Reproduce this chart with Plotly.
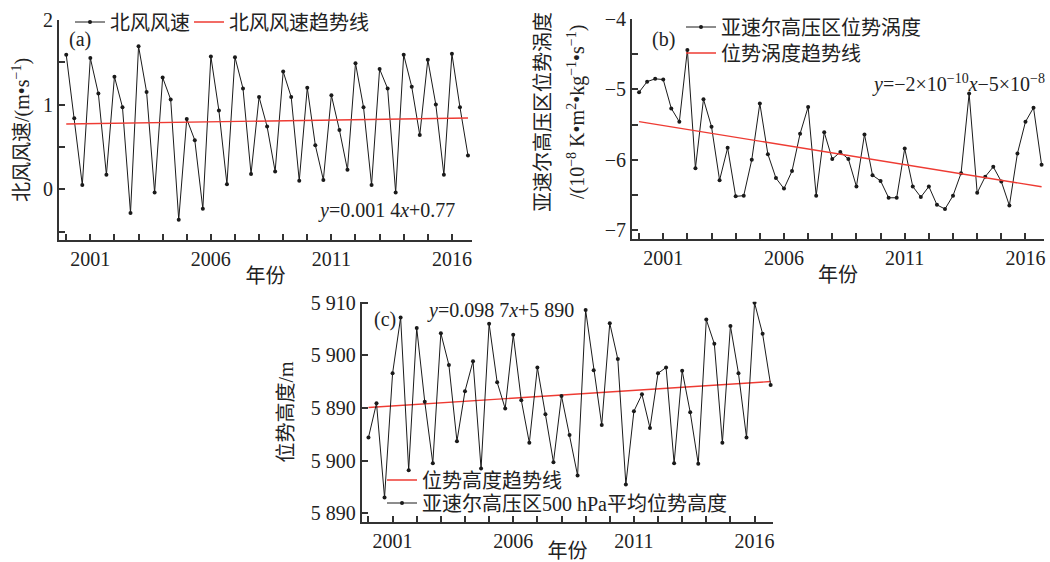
import plotly.graph_objects as go

# ---- data -------------------------------------------------------------
years = list(range(2000, 2017))          # three samples per year
labelled_years = [2001, 2006, 2011, 2016]

# (a) northerly wind speed, m/s
wind = [1.59, 0.84, 0.05, 1.55, 1.13, 0.17, 1.33, 0.97, -0.28, 1.69, 1.15, -0.04,
        1.32, 1.06, -0.36, 0.83, 0.58, -0.23, 1.57, 0.93, 0.06, 1.56, 1.19, 0.18,
        1.09, 0.74, 0.21, 1.39, 1.09, 0.10, 1.20, 0.52, 0.11, 1.11, 0.70, 0.23,
        1.49, 0.97, 0.05, 1.42, 1.19, -0.04, 1.59, 1.21, 0.64, 1.53, 1.00, 0.17,
        1.60, 0.97, 0.40]
wind_trend = (0.0014, 0.77)              # slope, intercept

# (b) potential vorticity, 1e-8 K m2 kg-1 s-1
pv = [-5.04, -4.89, -4.85, -4.86, -5.27, -5.46, -4.44, -6.12, -5.14, -5.53, -6.29,
      -5.83, -6.52, -6.51, -6.00, -5.20, -5.92, -6.26, -6.41, -6.16, -5.63, -5.25,
      -6.51, -5.61, -5.99, -5.89, -5.99, -6.38, -5.64, -6.22, -6.30, -6.54, -6.54,
      -5.84, -6.38, -6.53, -6.38, -6.64, -6.70, -6.51, -6.19, -5.06, -6.47, -6.24,
      -6.10, -6.31, -6.65, -5.91, -5.46, -5.26, -6.07]
pv_trend = (-0.0185, -5.44)              # slope, intercept (x1e-8)

# (c) 500 hPa mean geopotential height, m
gh = [5884.4, 5890.9, 5873.0, 5896.6, 5907.2, 5878.2, 5905.2, 5891.2, 5879.5,
      5904.2, 5898.2, 5883.7, 5893.2, 5898.9, 5878.5, 5906.0, 5894.9, 5889.9,
      5903.9, 5891.5, 5883.4, 5897.7, 5888.8, 5879.7, 5892.3, 5884.9, 5877.2,
      5908.6, 5897.2, 5886.8, 5906.1, 5899.3, 5875.5, 5889.4, 5892.6, 5886.2,
      5896.6, 5897.7, 5879.5, 5897.1, 5889.2, 5879.4, 5906.8, 5902.2, 5883.4,
      5905.6, 5896.6, 5884.4, 5910.0, 5904.1, 5894.4]
gh_trend = (0.0987, 5890)
gh_tickvals = [5870, 5880, 5890, 5900, 5910]
gh_ticktext = ["5 890", "5 900", "5 890", "5 900", "5 910"]

# ---- styling ----------------------------------------------------------
W, H = 1050, 562
FONT = "Liberation Serif, 'Noto Sans CJK SC', serif"
TXT = "#222222"
AX = "#333333"
RED = "#ee3b33"
SERIES = "#1a1a1a"


def px(x):
    return x / W


def py(y):
    return 1 - y / H


idx = list(range(1, len(wind) + 1))
# sample index of the first sample of each year; labelled years get a label,
# every year gets a tick (drawn as minor ticks)
year_pos = {y: 1 + 3 * k for k, y in enumerate(years)}
major_vals = [year_pos[y] for y in labelled_years]
major_text = [str(y) for y in labelled_years]


def line_of(coef):
    return [coef[0] * i + coef[1] for i in idx]


fig = go.Figure()

series_line = dict(color=SERIES, width=1)
series_marker = dict(color=SERIES, size=4)
trend_line = dict(color=RED, width=1.4)

# panel (a)
fig.add_trace(go.Scatter(x=idx, y=wind, mode="lines+markers", name="北风风速",
                         line=series_line, marker=series_marker,
                         xaxis="x", yaxis="y", legend="legend"))
fig.add_trace(go.Scatter(x=idx, y=line_of(wind_trend), mode="lines", name="北风风速趋势线",
                         line=trend_line, xaxis="x", yaxis="y", legend="legend2"))
# panel (b)
fig.add_trace(go.Scatter(x=idx, y=pv, mode="lines+markers", name="亚速尔高压区位势涡度",
                         line=series_line, marker=series_marker,
                         xaxis="x2", yaxis="y2", legend="legend3"))
fig.add_trace(go.Scatter(x=idx, y=line_of(pv_trend), mode="lines", name="位势涡度趋势线",
                         line=trend_line, xaxis="x2", yaxis="y2", legend="legend4"))
# panel (c)
fig.add_trace(go.Scatter(x=idx, y=line_of(gh_trend), mode="lines", name="位势高度趋势线",
                         line=trend_line, xaxis="x3", yaxis="y3", legend="legend5"))
fig.add_trace(go.Scatter(x=idx, y=gh, mode="lines+markers",
                         name="亚速尔高压区500 hPa平均位势高度",
                         line=series_line, marker=series_marker,
                         xaxis="x3", yaxis="y3", legend="legend6"))

tickfont = dict(family=FONT, size=20, color=TXT)
titlefont = dict(family=FONT, size=20, color=TXT)
minor = dict(ticks="inside", ticklen=6, tickwidth=1.5, tickcolor=AX, showgrid=False)


def xaxis(domain, rng, anchor):
    return dict(domain=domain, range=rng, anchor=anchor, tickmode="array",
                tickvals=major_vals, ticktext=major_text, ticks="inside", ticklen=6,
                tickwidth=1.5, tickcolor=AX, showline=True, linecolor=AX,
                linewidth=2, showgrid=False, zeroline=False, tickfont=tickfont,
                automargin=False,
                minor=dict(tick0=year_pos[years[0]], dtick=3, **minor),
                title=dict(text="年份", font=titlefont, standoff=0))


def yaxis(domain, rng, anchor, **kw):
    d = dict(domain=domain, range=rng, anchor=anchor, ticks="inside", ticklen=6,
             tickwidth=1.5, tickcolor=AX, showline=True, linecolor=AX,
             linewidth=2, showgrid=False, zeroline=False, tickfont=tickfont,
             automargin=False)
    d.update(kw)
    return d


def key(text_left, y_mid):
    # one single-item legend; its text begins about 41 px right of the box edge
    return dict(x=px(text_left - 41), y=py(y_mid), xanchor="left", yanchor="middle",
                bgcolor="rgba(0,0,0,0)", font=dict(family=FONT, size=20, color=TXT),
                itemwidth=30, tracegroupgap=0, borderwidth=0)


fig.update_layout(
    width=W, height=H, margin=dict(l=0, r=0, t=0, b=0, autoexpand=False),
    paper_bgcolor="white", plot_bgcolor="white",
    font=dict(family=FONT, size=20, color=TXT),
    xaxis=xaxis([px(59), px(472)], [0.1, 51.5], "y"),
    yaxis=yaxis([py(240), py(20)], [-0.6, 2.0], "x", dtick=1, tick0=0,
                minor=dict(dtick=0.5, **minor),
                title=dict(text="北风风速/(m•s<sup>−1</sup>)", font=titlefont, standoff=8)),
    xaxis2=xaxis([px(632), px(1044)], [0.12, 51.3], "y2"),
    yaxis2=yaxis([py(239.3), py(19)], [-7.13, -4.0], "x2", dtick=1, tick0=-7,
                 minor=dict(dtick=0.5, **minor)),
    xaxis3=xaxis([px(361.7), px(773.3)], [0.16, 51.33], "y3"),
    yaxis3=yaxis([py(522.3), py(301.7)], [5868.3, 5910.2], "x3",
                 tickmode="array", tickvals=gh_tickvals, ticktext=gh_ticktext,
                 title=dict(text="位势高度/m", font=titlefont, standoff=12)),
    legend=key(111, 22),
    legend2=key(230, 22),
    legend3=key(722, 27),
    legend4=key(722, 53),
    legend5=key(423, 480),
    legend6=key(423, 503),
    showlegend=True,
)

ann = []


def note(text, x, y, size=20, angle=0, xanchor="center", yanchor="middle"):
    ann.append(dict(text=text, x=px(x), y=py(y), xref="paper", yref="paper",
                    showarrow=False, textangle=angle, xanchor=xanchor, yanchor=yanchor,
                    font=dict(family=FONT, size=size, color=TXT)))


# panel tags
note("(a)", 80, 40)
note("(b)", 663, 40)
note("(c)", 385, 319)

# regression equations
note("<i>y</i>=0.001 4<i>x</i>+0.77", 386, 210)
note("<i>y</i>=−2×10<sup>−10</sup><i>x</i>−5×10<sup>−8</sup>", 1047, 84, xanchor="right")
note("<i>y</i>=0.098 7<i>x</i>+5 890", 500, 310)

# two-line title of the potential-vorticity axis
note("亚速尔高压区位势涡度", 543, 112, angle=-90)
note("/(10<sup>−8</sup> K•m<sup>2</sup>•kg<sup>−1</sup>•s<sup>−1</sup>)", 576, 112, angle=-90)

fig.update_layout(annotations=ann)

fig.write_html("out.html")
